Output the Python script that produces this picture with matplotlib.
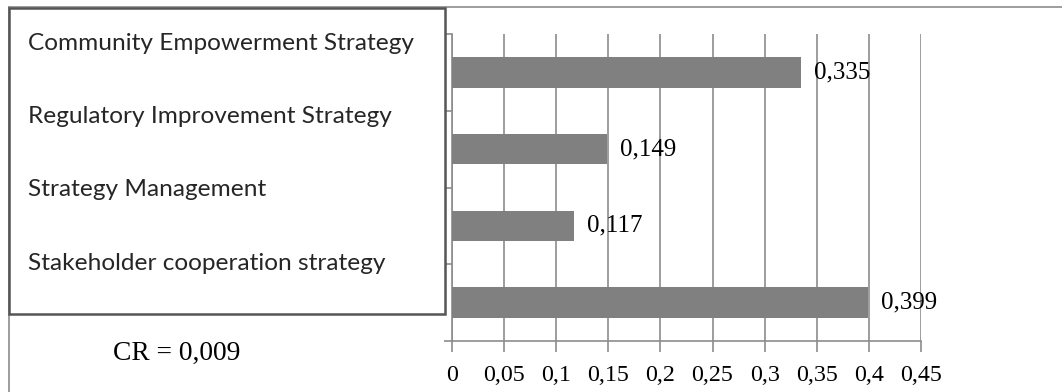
import matplotlib
matplotlib.use("Agg")
import matplotlib.pyplot as plt
from matplotlib.patches import Rectangle
from matplotlib.lines import Line2D

# Priority weights of the strategies (top to bottom)
strategies = [
    "Community Empowerment Strategy",
    "Regulatory Improvement Strategy",
    "Strategy Management",
    "Stakeholder cooperation strategy",
]
weights = [0.335, 0.149, 0.117, 0.399]
cr_text = "CR = 0,009"

xticks = [0, 0.05, 0.1, 0.15, 0.2, 0.25, 0.3, 0.35, 0.4, 0.45]
xtick_labels = ["0", "0,05", "0,1", "0,15", "0,2", "0,25", "0,3", "0,35", "0,4", "0,45"]

W, H = 1062, 392
fig = plt.figure(figsize=(W / 100, H / 100), dpi=100)
fig.patch.set_facecolor("white")

grid_c = "#8c8c8c"
serif = ["Liberation Serif", "DejaVu Serif"]

# outer chart frame (left and top edges only visible)
fig.add_artist(Line2D([9 / W, 9 / W], [0, 1 - 7 / H], color=grid_c, lw=1.2, zorder=0))
fig.add_artist(Line2D([9 / W, 1], [1 - 7 / H, 1 - 7 / H], color=grid_c, lw=1.2, zorder=0))

ax = fig.add_axes([452 / W, 1 - 341 / H, 469 / W, 307 / H])
ypos = list(range(len(weights)))
ax.barh(ypos, weights, height=0.4, color="#808080", zorder=3)
ax.set_ylim(len(weights) - 0.5, -0.5)
ax.set_xlim(0, 0.45)

ax.set_xticks(xticks)
ax.set_xticklabels(xtick_labels, fontfamily=serif, fontsize=17.3)
ax.set_yticks([i - 0.5 for i in range(len(weights) + 1)])
ax.set_yticklabels([])
ax.tick_params(axis="x", direction="out", length=8, width=1.2, color=grid_c, pad=9)
ax.tick_params(axis="y", direction="out", length=6, width=1.2, color=grid_c)
ax.grid(axis="x", color=grid_c, lw=1.2, zorder=0)
ax.set_axisbelow(True)
for s in ["top", "right"]:
    ax.spines[s].set_visible(False)
for s in ["left", "bottom"]:
    ax.spines[s].set_color(grid_c)
    ax.spines[s].set_linewidth(1.2)

for y, v in zip(ypos, weights):
    ax.text(v + 0.0125, y, f"{v:.3f}".replace(".", ","), va="center", ha="left",
            fontfamily=serif, fontsize=18, color="black", zorder=4)

# label box covering the left side of the chart
fig.add_artist(Rectangle((9 / W, 1 - 314 / H), 436 / W, 306 / H, transform=fig.transFigure,
                         facecolor="white", edgecolor="#555555", lw=1.8, zorder=5))
for i, name in enumerate(strategies):
    fig.text(28 / W, 1 - (43 + i * 73.5) / H, name, ha="left", va="center",
             fontfamily="Lato", fontsize=17.6, color="#262626", zorder=6)

fig.text(113 / W, 1 - 353 / H, cr_text, ha="left", va="center",
         fontfamily=serif, fontsize=19.8, color="black")

fig.savefig("out.png", dpi=100, facecolor="white")
